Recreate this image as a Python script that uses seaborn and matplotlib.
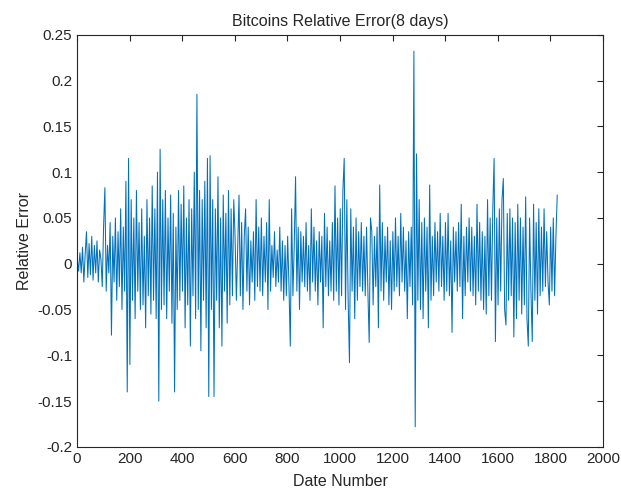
import numpy as np
import pandas as pd
import matplotlib
matplotlib.use("Agg")
import matplotlib.pyplot as plt
import seaborn as sns

# Relative error values, one every 5 days
err_0000 = [0.005, -0.008, 0.012, -0.01, 0.018, -0.02, 0.01, 0.035, -0.015, 0.022,
            -0.012, 0.03, -0.018, 0.02, -0.01, 0.025, -0.02, 0.015, 0.005, -0.025]
err_0100 = [0.04, 0.083, -0.03, 0.02, -0.01, 0.045, -0.078, 0.03, -0.02, 0.05,
            -0.04, 0.035, -0.025, 0.06, -0.05, 0.04, -0.03, 0.09, -0.14, 0.115]
err_0200 = [-0.11, 0.07, -0.04, 0.05, -0.06, 0.08, -0.03, 0.045, -0.05, 0.06,
            -0.045, 0.03, -0.07, 0.07, -0.035, 0.05, -0.055, 0.085, -0.04, 0.06]
err_0300 = [-0.06, 0.1, -0.15, 0.125, -0.05, 0.07, -0.045, 0.08, -0.06, 0.05,
            -0.03, 0.075, -0.065, 0.055, -0.14, 0.04, -0.05, 0.08, -0.04, 0.065]
err_0400 = [-0.03, 0.085, -0.07, 0.05, -0.045, 0.07, -0.09, 0.06, -0.035, 0.1,
            -0.06, 0.185, -0.05, 0.08, -0.095, 0.07, -0.04, 0.09, -0.07, 0.115]
err_0500 = [-0.145, 0.118, -0.05, 0.07, -0.145, 0.06, -0.04, 0.095, -0.07, 0.05,
            -0.09, 0.075, -0.03, 0.055, -0.065, 0.08, -0.045, 0.06, -0.035, 0.07]
err_0600 = [0.03, -0.04, 0.02, 0.075, -0.035, 0.045, -0.05, 0.03, 0.06, -0.03,
            0.04, -0.045, 0.025, -0.02, 0.035, -0.04, 0.07, -0.025, 0.04, -0.03]
err_0700 = [0.05, -0.035, 0.03, -0.02, 0.045, -0.05, 0.07, -0.03, 0.02, -0.015,
            0.035, -0.025, 0.015, -0.02, 0.04, -0.03, 0.025, -0.04, 0.02, -0.035]
err_0800 = [0.03, -0.025, -0.09, 0.06, -0.035, 0.02, 0.095, -0.03, 0.04, -0.05,
            0.035, -0.02, 0.03, -0.025, 0.045, -0.03, 0.02, -0.04, 0.06, -0.02]
err_0900 = [0.04, -0.03, 0.025, -0.045, 0.035, -0.02, 0.03, -0.07, 0.055, -0.025,
            0.04, -0.035, 0.025, -0.03, 0.045, -0.04, 0.085, -0.03, 0.05, -0.045]
err_1000 = [0.06, -0.035, 0.08, 0.115, -0.05, 0.07, -0.04, -0.108, 0.06, -0.03,
            0.04, -0.06, 0.05, -0.04, 0.035, -0.025, 0.045, -0.03, 0.03, -0.035]
err_1100 = [0.04, -0.03, -0.086, 0.05, 0.035, -0.045, 0.03, -0.025, 0.04, -0.07,
            0.086, -0.03, 0.045, -0.04, 0.03, -0.02, 0.04, -0.045, 0.025, -0.05]
err_1200 = [0.035, -0.03, 0.05, -0.025, 0.03, -0.035, 0.055, -0.02, 0.04, -0.03,
            0.025, -0.06, 0.035, -0.025, 0.04, -0.045, 0.232, -0.178, 0.12, -0.04]
err_1300 = [0.07, -0.05, 0.045, -0.06, 0.05, -0.03, 0.04, -0.07, 0.086, -0.04,
            0.03, -0.035, 0.045, -0.02, 0.035, -0.03, 0.055, -0.025, 0.03, -0.04]
err_1400 = [0.045, -0.03, 0.055, -0.035, 0.025, -0.075, 0.04, -0.02, 0.035, -0.03,
            0.045, -0.025, 0.065, -0.06, 0.03, -0.035, 0.04, -0.02, 0.05, -0.03]
err_1500 = [0.04, -0.035, 0.03, -0.045, 0.065, -0.03, 0.045, -0.04, 0.035, -0.05,
            0.03, -0.055, 0.07, -0.035, 0.05, -0.04, 0.06, 0.115, -0.085, 0.05]
err_1600 = [-0.045, 0.06, -0.03, 0.07, 0.093, -0.05, -0.067, 0.055, -0.04, 0.06,
            -0.035, 0.05, -0.08, 0.045, -0.06, 0.065, -0.04, 0.05, -0.055, 0.04]
err_1700 = [-0.045, 0.073, -0.06, -0.09, 0.05, -0.03, -0.085, 0.065, -0.04, 0.045,
            -0.055, 0.06, -0.035, 0.04, -0.03, 0.06, -0.025, 0.035, -0.02, -0.045]
err_1800 = [0.04, -0.03, 0.05, -0.035, 0.03, 0.075]

rel_error = (err_0000 + err_0100 + err_0200 + err_0300 + err_0400 + err_0500 +
             err_0600 + err_0700 + err_0800 + err_0900 + err_1000 + err_1100 +
             err_1200 + err_1300 + err_1400 + err_1500 + err_1600 + err_1700 +
             err_1800)
date_number = list(range(1, 5 * len(rel_error) + 1, 5))

x_ticks = [0, 200, 400, 600, 800, 1000, 1200, 1400, 1600, 1800, 2000]
y_ticks = [-0.2, -0.15, -0.1, -0.05, 0, 0.05, 0.1, 0.15, 0.2, 0.25]
y_tick_labels = ["-0.2", "-0.15", "-0.1", "-0.05", "0", "0.05", "0.1", "0.15", "0.2", "0.25"]

df = pd.DataFrame({"Date Number": date_number, "Relative Error": rel_error})

sns.set_style("white")
plt.rcParams["font.family"] = ["Liberation Sans", "DejaVu Sans"]

fig = plt.figure(figsize=(6.21, 4.90), dpi=100)
ax = fig.add_axes([0.124, 0.088, 0.847, 0.841])

sns.lineplot(data=df, x="Date Number", y="Relative Error", ax=ax,
             color="#0072BD", linewidth=0.75)

ax.set_xlim(0, 2000)
ax.set_ylim(-0.2, 0.25)
ax.set_xticks(x_ticks)
ax.set_xticklabels([str(t) for t in x_ticks])
ax.set_yticks(y_ticks)
ax.set_yticklabels(y_tick_labels)
ax.tick_params(axis="both", direction="in", length=4, width=0.8, colors="#262626",
               labelsize=11, top=True, right=True, labelcolor="#262626")
for s in ax.spines.values():
    s.set_color("#262626")
    s.set_linewidth(0.8)
    s.set_visible(True)

ax.set_xlabel("Date Number", fontsize=11.5, color="#262626", labelpad=6)
ax.set_ylabel("Relative Error", fontsize=11.5, color="#262626", labelpad=4)
ax.set_title("Bitcoins Relative Error(8 days)", fontsize=11.5, color="#262626", pad=6)

fig.savefig("out.png", dpi=100, facecolor="white")
